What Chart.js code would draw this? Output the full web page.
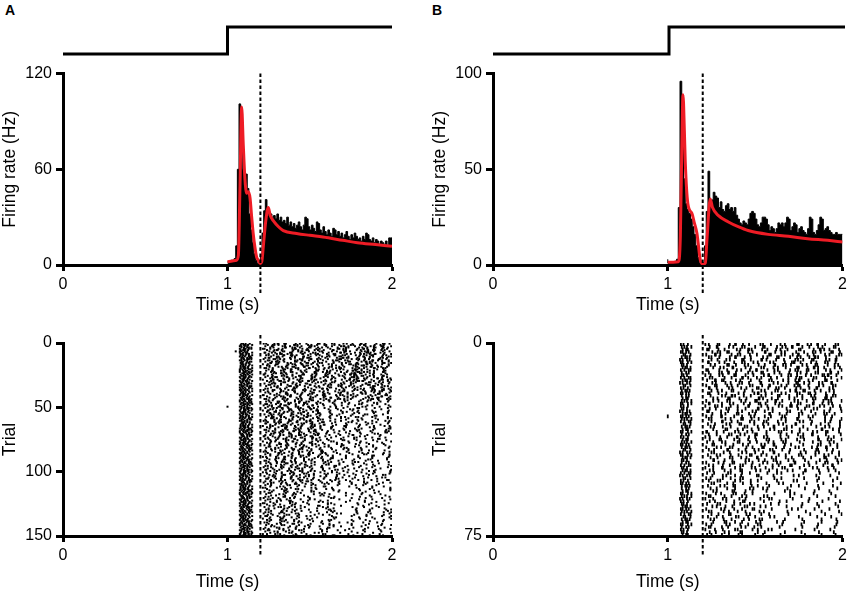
<!DOCTYPE html>
<html>
<head>
<meta charset="utf-8">
<script src="https://cdn.jsdelivr.net/npm/chart.js@4.4.1/dist/chart.umd.min.js"></script>
<style>
body { margin:0; width:851px; height:594px; overflow:hidden; background:#fff; font-family:'Liberation Sans', Arial, sans-serif; }
canvas { position:absolute; }
.lbl { position:absolute; font-weight:bold; font-size:14px; }
</style>
</head>
<body>
<div class="lbl" style="left:5px;top:2px">A</div>
<div class="lbl" style="left:432px;top:2px">B</div>
<canvas id="stimA" width="410" height="60" style="left:0;top:0"></canvas>
<canvas id="psthA" width="410" height="260" style="left:0;top:60px"></canvas>
<canvas id="rastA" width="410" height="274" style="left:0;top:320px"></canvas>
<canvas id="stimB" width="421" height="60" style="left:430px;top:0"></canvas>
<canvas id="psthB" width="421" height="260" style="left:430px;top:60px"></canvas>
<canvas id="rastB" width="421" height="274" style="left:430px;top:320px"></canvas>
<script>
// stimulus trace (time s, level)
var stimT = [0, 1, 1, 2];
var stimLevel = [0, 0, 1, 1];
var cueTime = 1.2;

// PSTH: 10 ms bins starting at 1.0 s (Hz)
var binStart = 1.0, binWidth = 0.01;
var psthA = [2, 2, 2, 3, 3, 4, 12, 60, 101, 85,
  60, 50, 57, 48, 32, 22, 14, 7, 3, 1,
  1, 6, 20, 34, 41, 33, 31, 32, 30, 31,
  29, 32, 28, 30, 27, 28, 26, 30, 25, 27,
  24, 26, 23, 25, 27, 24, 22, 25, 30, 29,
  24, 22, 25, 23, 21, 27, 26, 22, 20, 24,
  21, 19, 22, 20, 18, 23, 22, 19, 21, 18,
  20, 17, 19, 21, 18, 16, 19, 17, 20, 18,
  16, 17, 15, 18, 16, 20, 19, 16, 15, 17,
  14, 16, 15, 13, 15, 14, 13, 15, 12, 17];
var psthB = [3, 1, 1, 1, 1, 2, 3, 30, 96, 75,
  45, 32, 29, 27, 24, 20, 16, 10, 4, 1,
  0, 1, 10, 28, 49, 33, 34, 38, 36, 35,
  30, 33, 29, 28, 31, 32, 29, 30, 28, 30,
  26, 24, 22, 21, 23, 22, 21, 24, 27, 28,
  27, 24, 21, 20, 22, 25, 25, 24, 21, 18,
  20, 19, 17, 19, 22, 21, 22, 20, 22, 25,
  24, 18, 20, 22, 21, 17, 19, 20, 18, 17,
  16, 19, 25, 24, 17, 16, 18, 21, 25, 24,
  18, 19, 20, 18, 17, 16, 16, 17, 16, 16];

// smoothed rate (red)
var smoothTA = [1.0, 1.03, 1.055, 1.066, 1.076, 1.086, 1.096, 1.106, 1.117, 1.127, 1.137, 1.147, 1.157, 1.167, 1.177, 1.187, 1.198, 1.208, 1.218, 1.233, 1.248, 1.26, 1.278, 1.31, 1.339, 1.42, 1.5, 1.58, 1.7, 1.79, 1.9, 2.0];
var smoothA = [2, 2.5, 3, 6, 50, 99, 75, 54, 45, 46, 42, 30, 19, 11, 5, 3, 1, 2, 12, 28, 36, 31, 27.8, 24, 21.6, 19.8, 18.6, 17.5, 15.5, 14, 12.8, 11.7];
var smoothTB = [1.0, 1.03, 1.06, 1.072, 1.08, 1.087, 1.095, 1.1, 1.115, 1.138, 1.152, 1.167, 1.186, 1.2, 1.215, 1.224, 1.243, 1.256, 1.29, 1.347, 1.403, 1.46, 1.574, 1.69, 1.8, 1.915, 2.0];
var smoothB = [1.5, 1.5, 1.7, 15, 60, 89, 70, 54, 32, 27, 22, 16.5, 2.6, 0.5, 1, 13, 34.5, 30, 25.8, 22.5, 20, 18, 16, 15, 13.7, 12.9, 12];

// raster: one string per trial, each char = gap to next spike in 5 ms units (base 36), from 1.0 s
var spikeUnit = 0.005;
var rasterA = [
  "h235h3a4172c58e2693b47a15d8264", "g4235j6258b13d4792a6e3851c74b29", "f243m81c3695a24e7b3158d6492a73", "h3423n4e1836b2957ca3d4682915b73", "f5243e27a5c3186b4d9253e7148a6c2",
  "g324n9315e6a2847b1c3d596284a71", "a5243r5b2a7418d3c6925e4317b86a2", "f4326f1846c2b5a397e14d6823c59a7", "g253oa4275d1963b82e5c4761a93b8", "g3344h36c1825ea4b7193d5862c47a1",
  "f3352p725b4a18e63c29d5174b836a2", "h2532h4193d6a52c8e7142b96d35812", "h3423fc2658b3a1749e2d6375c18a49", "f243p2a7e3518b6c4293d7a1658e24", "h2532h85136d2ac4a97b2e5143c869a",
  "g253q19b4c72683ea5d1b47928c3a6", "h235g6a2d5381b7e4c9263a15d8472", "g3344i37e1a942c6b58d3721a6e4958", "g324qb4582c1a7d396e2b51847ca36", "g4235f28c6a3d17b5942e86c1a3b759",
  "f3352m5d2718ac36b94e1257c8a3d62", "f4326h71a39c5e2b48d6137a5c29b84", "f5243o4c82b6a1953e7d2648b1ca357", "i243ja3615d8e2c47b93162a5e8c47", "g4235e19e47c2a5b3d86142c9a7e365",
  "h235m6b3a82d5c1794e36285b1ad72", "f5243h842c1a6e3b57d9214c8a6b359", "g324r3d7592b1ae4c68273d15a9b46", "i243gc1586a3e42b7d9153a8c264e7", "f4326i5a29d4716c3be85241d7a6c93",
  "g253p5c2a81e74d3b96g2a58c9a7", "h3423g9317e5b2ac6d483f1b79a8", "f243q2d8a5c1g6394be72a5d89b", "h2532ia4e2719c5bd3a68f2c47a9", "f3352p71b93ea4c2d586g3a1b98",
  "g3344g3f6a2c8d15b9e74a2c6d9", "f243kb2895d3a1ge6c47b39287a", "g3344j6a3d1c7b5e92af8463bc9", "h235j4e71a9c2b6d38g15a7c4a8", "g324r8b2c5a3e16d97b4f28a59",
  "f4326d1d6a4c9b72e53a8g6c2b9", "i243lc5381bd6a2e9473f5b1a8", "g253p7a2e5c3d819b6g4a2c8d9", "h3423g29b6d4a1c7e358fa26b49", "f3352m5e3a8c2d617b4g93ac5b8",
  "f5243i4a27c5183be6dhag9b", "h2532o81c3a62d5fb9ge4ik", "g4235g2b6918a4c7ehd3jaf9", "i243h73a52c9b1de8gf6kb", "0f243p5829a3c1bf7ei4hd8",
  "h3423ha4617c3b5de9h2jg8", "g4235m3c82a5917ebf4gid6", "f5243e6195b3a8c2fde7hk4", "g324n92a47c1b6eg5dj3fh", "h235o1b5a839c2dfe6ihg7",
  "f4326f8364c2a7b5e9gf3jd", "g253o4a1c7953bd8hfe2ki", "g3344h7294b6a1cfe5d3hjg", "f3352p25b8a3c61ed9ghf4k", "h2532hb71a4958c3fde6ji2a",
  "f243k3a6c28b419fde7hg5c", "i243m8539a1b7c2eg4hdf6", "h235j1c4a6b3829fhde5jg", "g3344m6a2795c3b1edg8hk4", "g324i93b15a8c47fe2gid6",
  "g4235i4a82b6c39d1hfe5kg", "f3352n7c1a5394bdfe8gh2j", "h3423g2b96a4c718edf3hgk", "f4326k5a3c17b62fed9gi4h", "f5243ia1548c3b7d9ehfg2k",
  "g253r38b2a6c519fdeh4gj", "h2532h6c4a927b3edf1hgk5", "i243h1a8c35b72gdfe6ihk", "f243p94a6b2c18efd3jgh5", "g4235g4b73a1c95dhgef2kj",
  "h235p7c3b9e5ah2fkgd9", "f5243ea5d81cb7g3ifkh8", "g324n4b9c6a2ehfd8jkc", "f4326lc28a7d4bf6hgik", "h3423g69b3e5a8cg2jhfa",
  "g253o2d7b94ca5fhe8kd", "h2532ib4a6c18edg3hjf9", "f3352p5c9273bafe6ghk", "g3344g8a3d6b5c1hfg9jb", "i243h3b7ac49e2dgfhk",
  "f243pd16a8c5b4efg7jc", "g3344g6a4c9b2d7hfe3k8", "h235p9d5a37cb6gfh2j", "g324i4ca18b7e5dgfhk", "f4326ib3795ad8c2ghfia",
  "h3423m7a2cb64d9efh3k", "g253j2c8a5b9e6dhgfj", "f3352ma6395cbd7fe4hk", "f5243i58b2a7cf6dgeih", "h2532oc4a961be3dhg8j",
  "g4235g3a7b8c5df2eghkb", "i243h9c3a5b6e1fdhgj", "f243p6b9a24cd8gefhk", "h3423h1a6c79bef3dhgj9", "g4235m8d4b3a5c9egf6k",
  "f5243e4a9c2b7fe6dhgj", "g324nb7a5c39d4ehg8k", "h235o5c2a8b6fd9egh3c", "f4326fa38c6b4e7dfhgk", "g253o79b1a5cde8fgh4b",
  "g3344h2a6c9b7df3hegk", "f3352pc5a83b9e6dfgj2", "h2532h6b4ca72fe9dhgk", "i243h93a5c8bd6egf4j9", "f243p4c7a2b9e5dfhgk",
  "h235j7k3bf5rm9gn", "g3344mc4h9n2tsek", "g324i3ea7p5kujm", "g4235ii6b3mc8wdp6", "f3352n5d2kbr7phk8",
  "h3423g9f4ch3uxgi", "f4326k2ja8n6qkfl5", "f5243ig5c3ma9sbnh", "g253r6b9ek4rtjd7", "h2532h4i2cgp7vemb",
  "i243hb7e5jq3mhke", "f243p3c8hb6uogm9", "g4235ge5a2lf9rioa", "h235p8g3dj5snek7", "f5243e2bk7ep4whl5",
  "g324na6f3hn8tdj9", "f4326l5d9bl2qrgk8", "h3423gh3a7cm6uein", "g253o7c4gkb9sjfm", "h2532i3ib5fo2vhk6",
  "f3352pd6a8jh4rgma", "g3344g4f2bnk7tej9", "i243h9a6e3pm5kgni", "f243p6h3cja8ufld", "g3344g2d8gb5qoijb",
  "h235pc4a9mk3sglc", "g324i8e2hd6rvik", "f4326i5b7ajn3phme", "h3423mf3c6hb9tkgj", "g253j3g9d4omajhm",
  "f3352ma5e2kf8rlgi", "f5243i7c3ibq5mhjc", "h2532o4j8a6ch9pkmg", "g4235ge3b9gn2tikd", "i243h6d5fak8rjhe",
  "f243p2h7c3pj9mlgb", "h3423hb4a8em6ugki", "g4235m9e3cg5qljmd", "f5243e5a6jdk3shlf", "g324nd8b4hr2nkgj"
];
var rasterB = [
  "f35k4a2c6187d39b5e2a4718c36b", "g335l81d5a3c92e6471b8a5d2947c", "h42m2b7e4913c6a58d2f7146b9a3", "f243r6382ca5e1b74d9a36c2857b4", "i26ia15d73b8e2c4961a7d5b38c2",
  "g423m39c61a7e5b2d84a6139c7e5b", "e353p7a4e28c15b9d36a2e4718c5a", "f264j1c6b93a5e4d8217c6a39b5e8", "g24r5e28a4c7b1936d5a2c84e71b", "h324q84a1e6c3b59d2a7147c6e3b8",
  "f452i2d9b5a71c84e63a2b95d1c76", "g53nc3718e5a2d6b947a3e185c2b", "g24l6a4d2b9c51e837a6d2419cb5", "f452m3e8c16a5b7d942e3a7c81b65", "h324j9172e5cab3d6841a5e2c7b93",
  "e353q4b6a38d1e5c9276b4a1d8c35", "i26ia2c57e3b81d6942ac5b3e718", "f35o18e4a6c2b937d5a81e4c6b29", "g423p75b2d9a4c3e6182b7a5d4c91", "f243m2a9e6c4187b5d3a26c9e4b15",
  "g53pd4713a8c5e2b96a4d1738c2e", "h42t5c2b8e14a7d69c3b25e8a471", "g335h86a3d5b2c917e4a8b63c2d59", "f264k1e94c7a26b5d83e1a74c9b26", "f35kb35a8c1e7d4926b3c5a8e147",
  "g24q7c3a9e1b5gd8a4fc2a", "e353k2e8b5c4a9h3dbf6e9", "h324pa5d2c7g1b8e4fa39d", "0f243k6b1e9a4c7d3gb5e8c", "g335k3g6c2a8bf5d1eh7c9",
  "f452oc1a7e5b3d9g4af6ba", "i26k8d4b2fa6c5e1hb9d", "g423o4a9g3c7b1e6dfa5c8", "h42te2c6a8d5b3f9g1c7", "f264h1b8d4a6ge3c9f5a2d",
  "g53n9e3a5c2bg7d6a1fh", "f35k5c8b1d7a4f9e3hc6a", "h42pb2f6a9c3e5d8g1a4c", "g335i7a4e2c8d6b3gf9a5b", "f243r2d9b6f4a1c7eh3b8",
  "g423jc5a3g7b2e9d4f6a1c", "i26l6f1c8a5d3b9ge2a7b", "e353p3b7e5a9c1hd6b4f8", "f264ja4c9d2b6e8f3ga5c", "h324n8e3a6c1g5b7d9f2b9",
  "g24u1c9f4b7a3e6dh8c5", "g53ke6a2d8c5b4g1f9a3c", "f452l5b8c3a9f7d2e6ga1d", "g24l9a1e6d4c8b3hf5c7", "h324m4d7b2g5a9c6e1fb8a",
  "f452j8g3d9kb5pjmh", "e353qc4a7i2hn6kgm", "i26i5e9b3lf8qhl9", "f35oa3h6c8mj4nig", "f243q3f7b9ie5rjkd",
  "g423le5a2j7dp9mhf", "g53p7c9h4b5nkgle", "h42t4i2d8gl6shj", "f264hb6e3a9pi5mkg", "g335k2g8c5k4qdilc",
  "e353i9b4f7ha3ojmh", "f35p6d9a2mi8pgkb", "g24nc3g7b5j9rhle", "h324p5a8e3f6ohkmg", "f243kh4b9c2kn7jhf",
  "g335k3e6a9g5rlikc", "f452o8c2i4d9mphja", "i26ka7f3b8h5slgj", "g423o4b9e6c3qkmhd", "h42td2a8g5j7okig",
  "f264h6h4c9b3pmjle", "g53n2d7f5a8lqhkc", "f35kb9e3h6c4rmig", "g24q7a5d2i8njkhe", "h42m5c8b4f9ksjgb"
];

Chart.defaults.font.family = "'Liberation Sans', Arial, sans-serif";
Chart.defaults.color = '#000';

var cueLine = {
  id: 'cueLine',
  afterDatasetsDraw: function (chart, args, opts) {
    var x = chart.scales.x.getPixelForValue(opts.t);
    var a = chart.chartArea, ctx = chart.ctx;
    ctx.save();
    ctx.strokeStyle = '#000';
    ctx.lineWidth = 2;
    ctx.setLineDash([3.5, 2.5]);
    ctx.beginPath();
    ctx.moveTo(x, a.top - opts.above);
    ctx.lineTo(x, a.bottom + opts.below);
    ctx.stroke();
    ctx.restore();
  }
};

function xAxis(h) {
  return {
    type: 'linear', min: 0, max: 2,
    ticks: { stepSize: 1, font: { size: 16 }, padding: 4 },
    grid: { drawOnChartArea: false, tickLength: 6, tickWidth: 3, tickColor: '#000' },
    border: { color: '#000', width: 3 },
    title: { display: true, text: 'Time (s)', font: { size: 17.5 }, padding: 0 },
    afterFit: function (s) { s.height = h; }
  };
}

function yAxis(max, step, text, rev) {
  return {
    min: 0, max: max, reverse: !!rev,
    ticks: { stepSize: step, font: { size: 16 }, padding: 4 },
    grid: { drawOnChartArea: false, tickLength: 7, tickWidth: 3, tickColor: '#000' },
    border: { color: '#000', width: 3 },
    title: { display: true, text: text, font: { size: 17.5 }, padding: 0 },
    afterFit: function (s) { s.width = 63; }
  };
}

var quiet = { legend: { display: false }, tooltip: { enabled: false } };

function stimChart(id, padR) {
  new Chart(document.getElementById(id), {
    type: 'line',
    data: { datasets: [{
      data: stimT.map(function (t, i) { return { x: t, y: stimLevel[i] }; }),
      borderColor: '#000', borderWidth: 3, pointRadius: 0, clip: false,
      borderJoinStyle: 'miter'
    }] },
    options: {
      responsive: false, animation: false, events: [],
      layout: { padding: { left: 63, right: padR, top: 27, bottom: 6 } },
      scales: { x: { type: 'linear', min: 0, max: 2, display: false }, y: { min: 0, max: 1, display: false } },
      plugins: quiet
    }
  });
}

function psthChart(id, vals, smT, smV, yMax, yStep, padR) {
  var hist = vals.map(function (v, i) { return { x: binStart + i * binWidth, y: v }; });
  hist.push({ x: binStart + vals.length * binWidth, y: vals[vals.length - 1] });
  var smooth = smT.map(function (t, i) { return { x: t, y: smV[i] }; });
  new Chart(document.getElementById(id), {
    type: 'line',
    data: { datasets: [
      { data: smooth, borderColor: '#ee1c25', borderWidth: 3, pointRadius: 0, cubicInterpolationMode: 'monotone', order: 0 },
      { data: hist, stepped: 'after', fill: 'origin', backgroundColor: '#000', borderColor: '#000', borderWidth: 1, pointRadius: 0, order: 1 }
    ] },
    options: {
      responsive: false, animation: false, events: [],
      layout: { padding: { left: 0, right: padR, top: 11, bottom: 4 } },
      scales: { x: xAxis(51), y: yAxis(yMax, yStep, 'Firing rate (Hz)') },
      plugins: { legend: { display: false }, tooltip: { enabled: false }, cueLine: { t: cueTime, above: 0, below: 28 } }
    },
    plugins: [cueLine]
  });
}

function rasterPoints(rows) {
  var pts = [];
  rows.forEach(function (row, trial) {
    var u = 0;
    for (var k = 0; k < row.length; k++) {
      u += parseInt(row.charAt(k), 36);
      var t = binStart + u * spikeUnit;
      if (t >= 2) break;
      pts.push({ x: t, y: trial + 0.5 });
    }
  });
  return pts;
}

function rasterChart(id, rows, yStep, r, w, padR) {
  new Chart(document.getElementById(id), {
    type: 'scatter',
    data: { datasets: [{
      data: rasterPoints(rows),
      pointStyle: 'line', pointRotation: 90, pointRadius: r, pointHoverRadius: r,
      pointBorderWidth: w, pointBorderColor: '#000', pointBackgroundColor: '#000'
    }] },
    options: {
      responsive: false, animation: false, events: [],
      layout: { padding: { left: 0, right: padR, top: 23, bottom: 1.5 } },
      scales: { x: xAxis(56.5), y: yAxis(rows.length, yStep, 'Trial', true) },
      plugins: { legend: { display: false }, tooltip: { enabled: false }, cueLine: { t: cueTime, above: 8, below: 20 } }
    },
    plugins: [cueLine]
  });
}

stimChart('stimA', 18);
psthChart('psthA', psthA, smoothTA, smoothA, 120, 60, 18);
rasterChart('rastA', rasterA, 50, 1, 2, 18);
stimChart('stimB', 6);
psthChart('psthB', psthB, smoothTB, smoothB, 100, 50, 6);
rasterChart('rastB', rasterB, 75, 1.8, 1.8, 6);
</script>
</body>
</html>
